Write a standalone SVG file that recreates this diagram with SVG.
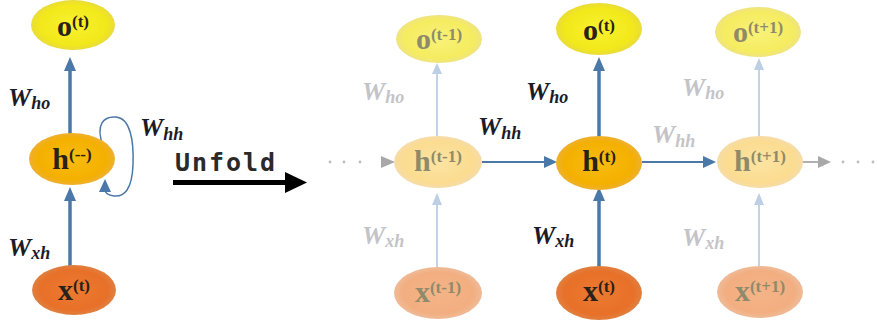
<svg xmlns="http://www.w3.org/2000/svg" width="877" height="325" viewBox="0 0 877 325">
<style>
.nl{font-family:"Liberation Serif",serif;font-weight:bold;font-size:30px;text-anchor:middle;fill:#2a2118}
.nlf{font-family:"Liberation Serif",serif;font-weight:bold;font-size:30px;text-anchor:middle;fill:#8f8a6a}
.sup{font-size:17px}
.w{font-family:"Liberation Serif",serif;font-weight:bold;font-style:italic;font-size:26px;fill:#1c1c28}
.wf{font-family:"Liberation Serif",serif;font-weight:bold;font-style:italic;font-size:26px;fill:#c4c4c8}
.sub{font-size:18px}
.dk{stroke:#4a78a8;fill:none}
.fd{stroke:#bccfe4;fill:none;stroke-width:1.8}
.gy{stroke:#a8a8a8;fill:none;stroke-width:1.8}
</style>
<defs>
<radialGradient id="gO"><stop offset="0" stop-color="#f8f230"/><stop offset="0.8" stop-color="#f2e81a"/><stop offset="1" stop-color="#e9dc3a"/></radialGradient>
<radialGradient id="gOf"><stop offset="0" stop-color="#f8f27a"/><stop offset="0.8" stop-color="#f5ec60"/><stop offset="1" stop-color="#efe480"/></radialGradient>
<radialGradient id="gH"><stop offset="0" stop-color="#f8bc10"/><stop offset="0.8" stop-color="#f4b000"/><stop offset="1" stop-color="#eeb030"/></radialGradient>
<radialGradient id="gHf"><stop offset="0" stop-color="#fce4a4"/><stop offset="0.8" stop-color="#fbdc90"/><stop offset="1" stop-color="#f6dca8"/></radialGradient>
<radialGradient id="gX"><stop offset="0" stop-color="#ec7a30"/><stop offset="0.8" stop-color="#e87028"/><stop offset="1" stop-color="#e08040"/></radialGradient>
<radialGradient id="gXf"><stop offset="0" stop-color="#f4b488"/><stop offset="0.8" stop-color="#f2ae80"/><stop offset="1" stop-color="#efbb98"/></radialGradient>
</defs>
<rect width="877" height="325" fill="#ffffff"/>

<g id="connectors">
  <line class="dk" x1="70" y1="134" x2="70" y2="70" stroke-width="3.5"/>
  <polygon points="70,57 64,71 76,71" fill="#4a78a8"/>
  <line class="dk" x1="70" y1="266" x2="70" y2="200" stroke-width="3.5"/>
  <polygon points="70,187 64,201 76,201" fill="#4a78a8"/>
  <path class="dk" stroke-width="1.5" d="M103,146 C95,124 104,116 116,117 C130,118 134,140 133,165 C132,190 124,197 114,196 C107,195 105,192 105,190"/>
  <polygon points="105,179 99,192 111,192" fill="#4a78a8"/>
  <line x1="173" y1="182.5" x2="288" y2="182.5" stroke="#000" stroke-width="5"/>
  <polygon points="285,172 307,182.5 285,193" fill="#000"/>
  <line class="fd" x1="437" y1="136" x2="437" y2="72"/>
  <polygon points="437,63 432,74 442,74" fill="#bccfe4"/>
  <line class="fd" x1="437" y1="267" x2="437" y2="203"/>
  <polygon points="437,193 432,205 442,205" fill="#bccfe4"/>
  <circle cx="330" cy="162" r="1.4" fill="#bdbdbd"/>
  <circle cx="344" cy="162" r="1.4" fill="#bdbdbd"/>
  <circle cx="360" cy="162" r="1.4" fill="#bdbdbd"/>
  <polygon points="395,162 381,156 381,168" fill="#a8a8a8"/>
  <line class="dk" x1="482" y1="162" x2="546" y2="162" stroke-width="2"/>
  <polygon points="557,162 544,156 544,168" fill="#4a78a8"/>
  <line class="dk" x1="599" y1="137" x2="599" y2="70" stroke-width="3.5"/>
  <polygon points="599,57 593,71 605,71" fill="#4a78a8"/>
  <line class="dk" x1="599" y1="268" x2="599" y2="200" stroke-width="3.5"/>
  <polygon points="599,187 593,201 605,201" fill="#4a78a8"/>
  <line class="dk" x1="642" y1="162" x2="705" y2="162" stroke-width="2"/>
  <polygon points="716,162 703,156 703,168" fill="#4a78a8"/>
  <line class="fd" x1="759" y1="136" x2="759" y2="68"/>
  <polygon points="759,58 754,70 764,70" fill="#bccfe4"/>
  <line class="fd" x1="759" y1="266" x2="759" y2="203"/>
  <polygon points="759,193 754,205 764,205" fill="#bccfe4"/>
  <line class="gy" x1="802" y1="162" x2="820" y2="162"/>
  <polygon points="831,162 818,156 818,168" fill="#a8a8a8"/>
  <circle cx="843" cy="162" r="1.4" fill="#bdbdbd"/>
  <circle cx="858" cy="162" r="1.4" fill="#bdbdbd"/>
  <circle cx="873" cy="162" r="1.4" fill="#bdbdbd"/>
</g>

<g id="o_left"><ellipse cx="73" cy="25" rx="42" ry="25" fill="url(#gO)"/><text class="nl" x="73" y="36">o<tspan class="sup" dy="-9">(t)</tspan></text></g>
<g id="h_left"><ellipse cx="72" cy="159" rx="43" ry="26" fill="url(#gH)"/><text class="nl" x="72" y="169">h<tspan class="sup" dy="-9">(--)</tspan></text></g>
<g id="x_left"><ellipse cx="74" cy="290" rx="42" ry="25" fill="url(#gX)"/><text class="nl" x="74" y="300">x<tspan class="sup" dy="-9">(t)</tspan></text></g>

<g id="o_tm1"><ellipse cx="439" cy="39" rx="43" ry="24" fill="url(#gOf)"/><text class="nlf" x="439" y="49">o<tspan class="sup" dy="-9">(t-1)</tspan></text></g>
<g id="h_tm1"><ellipse cx="438" cy="162" rx="44" ry="26" fill="url(#gHf)"/><text class="nlf" x="438" y="171">h<tspan class="sup" dy="-9">(t-1)</tspan></text></g>
<g id="x_tm1"><ellipse cx="438" cy="293" rx="44" ry="26" fill="url(#gXf)"/><text class="nlf" x="438" y="302">x<tspan class="sup" dy="-9">(t-1)</tspan></text></g>

<g id="o_t"><ellipse cx="599" cy="29" rx="43" ry="26" fill="url(#gO)"/><text class="nl" x="599" y="40">o<tspan class="sup" dy="-9">(t)</tspan></text></g>
<g id="h_t"><ellipse cx="599" cy="163" rx="43" ry="27" fill="url(#gH)"/><text class="nl" x="599" y="171">h<tspan class="sup" dy="-9">(t)</tspan></text></g>
<g id="x_t"><ellipse cx="599" cy="293" rx="43" ry="27" fill="url(#gX)"/><text class="nl" x="599" y="301">x<tspan class="sup" dy="-9">(t)</tspan></text></g>

<g id="o_tp1"><ellipse cx="758" cy="32" rx="43" ry="25" fill="url(#gOf)"/><text class="nlf" x="758" y="42">o<tspan class="sup" dy="-9">(t+1)</tspan></text></g>
<g id="h_tp1"><ellipse cx="760" cy="162" rx="43" ry="26" fill="url(#gHf)"/><text class="nlf" x="760" y="171">h<tspan class="sup" dy="-9">(t+1)</tspan></text></g>
<g id="x_tp1"><ellipse cx="760" cy="292" rx="43" ry="26" fill="url(#gXf)"/><text class="nlf" x="760" y="301">x<tspan class="sup" dy="-9">(t+1)</tspan></text></g>

<g id="labels">
  <text class="w" x="8" y="106">W<tspan class="sub" dy="3">ho</tspan></text>
  <text class="w" x="140" y="136">W<tspan class="sub" dy="4">hh</tspan></text>
  <text class="w" x="8" y="256">W<tspan class="sub" dy="3">xh</tspan></text>
  <text x="175" y="171" font-family="DejaVu Sans Mono,monospace" font-weight="bold" font-size="25" fill="#2a2a2a" textLength="100">Unfold</text>
  <text class="wf" x="362" y="100">W<tspan class="sub" dy="3">ho</tspan></text>
  <text class="w" x="526" y="100">W<tspan class="sub" dy="3">ho</tspan></text>
  <text class="w" x="478" y="135">W<tspan class="sub" dy="4">hh</tspan></text>
  <text class="wf" x="362" y="244">W<tspan class="sub" dy="3">xh</tspan></text>
  <text class="w" x="532" y="244">W<tspan class="sub" dy="3">xh</tspan></text>
  <text class="wf" x="682" y="96">W<tspan class="sub" dy="3">ho</tspan></text>
  <text class="wf" x="652" y="143">W<tspan class="sub" dy="4">hh</tspan></text>
  <text class="wf" x="682" y="246">W<tspan class="sub" dy="3">xh</tspan></text>
</g>
</svg>
